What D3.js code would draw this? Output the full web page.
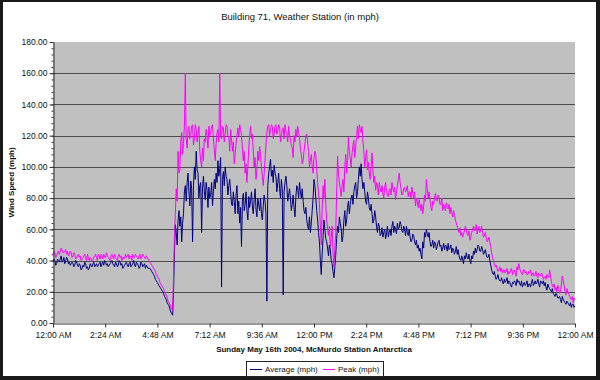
<!DOCTYPE html>
<html>
<head>
<meta charset="utf-8">
<script src="https://cdn.jsdelivr.net/npm/d3@7"></script>
<style>
  body { margin: 0; background: #fff; }
  svg { display: block; font-family: "Liberation Sans", Arial, sans-serif; }
</style>
</head>
<body>
<script>
// readings every 2.5 minutes, midnight to midnight
var stepMinutes = 2.5;

var avgMph = [
  39,41,40,37,38,41,40,39,41,43,39,40,42,38,40,42,41,38,39,37,
  38,39,38,36,37,40,39,37,36,38,37,34,35,37,36,39,38,35,36,34,
  35,38,37,36,38,39,36,37,38,36,37,38,39,36,38,39,37,40,39,37,
  38,36,37,38,39,40,38,37,36,39,38,36,37,40,39,37,38,35,36,37,
  38,39,37,36,38,39,36,37,38,40,37,36,39,38,37,35,36,39,38,36,
  37,38,35,37,36,35,
  35,35,34,33,32,31,30,28,27,26,25,24,23,22,21,20,19,17,16,15,13,12,11,9,7,6,5,20,
  45,63,58,50,66,72,62,68,52,64,70,84,88,78,90,96,84,75,91,86,
  52,88,100,92,110,98,96,80,88,90,58,86,94,84,79,90,85,74,87,80,
  82,90,75,84,92,86,96,90,104,94,99,106,23,92,97,88,100,94,92,82,
  88,92,84,76,75,84,78,70,82,88,70,78,64,74,49,78,83,72,76,84,
  72,66,81,74,78,84,75,70,79,86,73,68,80,76,72,80,70,66,75,82,
  78,70,14,88,96,100,105,94,98,90,101,96,94,84,90,96,86,80,92,86,
  18,84,90,94,88,78,82,86,80,72,76,82,74,68,81,88,86,80,90,84,
  80,86,78,72,70,74,66,62,60,68,58,64,72,80,92,88,
  80,72,66,58,52,40,31,44,55,66,60,54,52,48,43,50,47,40,38,33,
  29,36,44,54,62,58,68,64,60,52,56,66,72,62,66,74,78,70,76,80,
  82,76,84,88,90,80,84,92,100,94,102,92,86,90,84,78,76,84,80,74,
  72,76,70,64,66,72,68,62,58,64,62,56,57,61,55,58,60,54,57,62,
  55,58,60,56,62,65,58,62,60,57,64,60,61,65,63,59,58,62,60,56,
  62,58,56,60,55,52,53,57,56,52,50,53,48,50,46,48,44,41,52,48,
  58,55,60,57,55,58,52,49,50,53,48,52,51,47,49,52,53,49,50,46,
  48,51,47,50,49,46,51,47,48,50,45,48,47,44,46,49,44,47,43,41,
  40,43,41,38,43,41,45,42,41,44,40,38,43,41,46,44,48,45,47,50,
  49,46,46,49,47,44,45,47,44,42,42,44,40,37,34,32,31,33,30,28,
  29,31,28,27,27,29,26,25,28,26,27,29,25,27,26,24,23,26,25,27,
  26,24,28,26,27,25,24,27,23,25,26,24,25,27,23,25,25,23,26,28,
  24,25,27,25,26,28,25,23,27,26,25,27,24,26,23,21,25,23,22,21,
  20,22,19,18,17,19,18,16,16,17,15,13,17,15,14,13,12,14,13,12,
  11,13,10,12,12,10,11
];

var peakMph = [
  44,46,45,42,43,45,46,44,46,48,47,45,45,46,47,44,46,43,44,46,
  45,42,43,45,44,41,42,43,44,42,43,40,41,42,43,44,42,40,44,42,
  40,42,41,39,40,42,43,44,42,40,44,43,41,44,43,41,44,42,42,45,
  43,42,41,40,43,44,42,41,44,42,41,40,43,44,42,43,40,42,42,41,
  44,42,43,44,41,43,42,40,44,42,42,44,43,42,41,43,44,41,42,44,
  43,42,41,43,42,41,
  40,39,38,37,36,35,34,33,31,30,29,28,26,25,24,23,22,20,19,18,16,14,13,12,10,9,8,30,
  55,70,86,78,110,96,98,116,122,108,115,126,160,118,112,124,126,118,120,126,
  127,114,118,127,124,116,121,126,110,104,100,112,104,118,116,124,119,112,126,120,
  122,126,127,118,111,104,115,122,124,116,160,120,118,126,125,116,121,127,126,120,
  119,110,124,118,110,116,102,108,115,120,125,119,127,124,120,112,104,110,96,102,
  90,100,112,120,126,118,121,110,100,106,92,98,110,104,113,108,100,94,88,96,
  105,114,122,126,127,120,124,127,126,118,121,126,127,121,123,127,126,116,119,124,
  125,118,127,123,122,116,126,120,118,114,112,106,120,116,124,119,126,122,119,112,
  108,102,104,110,115,120,121,116,110,100,104,108,100,96,106,110,
  108,98,90,84,76,62,50,72,88,80,92,76,66,60,56,62,49,55,62,46,
  36,48,58,84,107,96,90,86,81,88,92,84,100,108,96,104,119,110,105,100,
  109,114,117,106,113,120,126,118,127,124,122,126,116,110,100,106,111,98,103,96,
  92,100,109,98,90,94,85,90,88,82,90,86,84,88,83,80,87,90,85,82,
  81,85,86,82,90,86,84,87,79,84,88,92,96,90,86,82,83,86,87,84,
  85,88,81,84,84,80,87,83,80,84,75,80,78,74,79,76,72,76,70,75,
  82,78,92,86,80,84,79,74,72,78,76,80,83,79,78,82,81,76,76,80,
  72,76,75,72,77,74,73,76,70,74,71,68,72,69,66,64,62,60,58,61,
  56,58,55,57,59,62,60,57,56,59,53,55,58,60,62,59,60,63,57,60,
  62,58,60,62,58,55,56,58,55,52,53,55,52,49,45,42,40,38,36,37,
  35,33,34,36,33,35,32,34,34,32,33,35,31,33,32,34,35,31,33,34,
  32,30,36,34,38,35,33,32,31,34,34,32,33,31,31,33,32,34,30,32,
  32,30,31,33,30,29,32,31,30,32,31,28,29,30,28,31,30,29,34,30,
  26,24,23,25,21,23,20,24,22,19,20,25,30,27,24,20,18,22,20,19,
  17,16,15,17,13,16,15
];

var xTickMinutes = [0,144,288,432,576,720,864,1008,1152,1296,1440];
var xTickLabels = ["12:00 AM","2:24 AM","4:48 AM","7:12 AM","9:36 AM","12:00 PM",
                   "2:24 PM","4:48 PM","7:12 PM","9:36 PM","12:00 AM"];
var yTicks = [0,20,40,60,80,100,120,140,160,180];
var yMinorTicks = d3.range(0, 181, 4);

var seriesNames = ["Average (mph)", "Peak (mph)"];
var seriesColors = ["#000080", "#ff00ff"];

var W = 600, H = 380;
var plotL = 53, plotR = 575, plotT = 42, plotB = 323;

var svg = d3.select("body").append("svg")
        .attr("width", W)
        .attr("height", H);

// dark frame round the whole chart
svg.append("rect").attr("width", W).attr("height", H).attr("fill", "#1a1a1a");
svg.append("rect")
        .attr("x", 3).attr("y", 2)
        .attr("width", 593).attr("height", 374)
        .attr("fill", "#fff");

var x = d3.scaleLinear().domain([0, 1440]).range([plotL, plotR]);
var y = d3.scaleLinear().domain([0, 180]).range([plotB, plotT]);

// grey plot area
svg.append("rect")
        .attr("x", plotL).attr("y", plotT)
        .attr("width", plotR - plotL).attr("height", plotB - plotT)
        .attr("fill", "#c0c0c0");

// horizontal gridlines
svg.selectAll("line.grid")
        .data(yTicks.filter(function(d){ return d > 0 && d < 180; }))
        .enter().append("line")
                .attr("class", "grid")
                .attr("x1", plotL).attr("x2", plotR)
                .attr("y1", function(d){ return Math.round(y(d)) + 0.5; })
                .attr("y2", function(d){ return Math.round(y(d)) + 0.5; })
                .attr("stroke", "#4d4d4d")
                .attr("stroke-width", 1);

// the two series, average first so peak sits on top
var allSeries = [
  { name: seriesNames[0], color: seriesColors[0], values: avgMph },
  { name: seriesNames[1], color: seriesColors[1], values: peakMph }
];
var line = d3.line()
        .x(function(d, i){ return x(i * stepMinutes); })
        .y(function(d){ return y(d); });

svg.selectAll("path.series")
        .data(allSeries)
        .enter().append("path")
                .attr("class", "series")
                .attr("d", function(d){ return line(d.values); })
                .attr("fill", "none")
                .attr("stroke", function(d){ return d.color; })
                .attr("stroke-width", 1)
                .attr("stroke-linejoin", "round");

// y axis, minor ticks first then the labelled one
svg.append("g")
        .attr("transform", "translate(" + (plotL + 0.5) + ",0)")
        .call(d3.axisLeft(y).tickValues(yMinorTicks).tickSize(2).tickFormat(""))
        .call(function(g){ g.select(".domain").remove(); })
        .selectAll("line").attr("stroke", "#333");

var yAxis = svg.append("g")
        .attr("transform", "translate(" + (plotL + 0.5) + ",0)")
        .call(d3.axisLeft(y).tickValues(yTicks).tickSize(4).tickSizeOuter(0)
                .tickFormat(function(d){ return d.toFixed(2); }));
yAxis.select(".domain").attr("stroke", "#333");
yAxis.selectAll("line").attr("stroke", "#333");
yAxis.selectAll("text")
        .attr("font-size", "8.5px")
        .attr("font-family", "Liberation Sans, Arial, sans-serif")
        .attr("fill", "#111")
        .attr("x", -6);

// x axis
var xAxis = svg.append("g")
        .attr("transform", "translate(0," + (plotB + 0.5) + ")")
        .call(d3.axisBottom(x).tickValues(xTickMinutes).tickSize(4).tickSizeOuter(0)
                .tickFormat(function(d, i){ return xTickLabels[i]; }));
xAxis.select(".domain").attr("stroke", "#333");
xAxis.selectAll("line").attr("stroke", "#333");
xAxis.selectAll("text")
        .attr("font-size", "8.5px")
        .attr("font-family", "Liberation Sans, Arial, sans-serif")
        .attr("fill", "#111")
        .attr("y", 8);

// titles
svg.append("text")
        .attr("x", 300).attr("y", 20)
        .attr("text-anchor", "middle")
        .attr("font-size", "9.5px")
        .attr("fill", "#111")
        .text("Building 71, Weather Station (in mph)");

svg.append("text")
        .attr("x", (plotL + plotR) / 2).attr("y", 352)
        .attr("text-anchor", "middle")
        .attr("font-size", "8px")
        .attr("font-weight", "bold")
        .attr("fill", "#111")
        .text("Sunday May 16th 2004, McMurdo Station Antarctica");

svg.append("text")
        .attr("transform", "translate(14," + ((plotT + plotB) / 2) + ") rotate(-90)")
        .attr("text-anchor", "middle")
        .attr("font-size", "8px")
        .attr("font-weight", "bold")
        .attr("fill", "#111")
        .text("Wind Speed (mph)");

// legend box at the bottom
var legend = svg.append("g");
legend.append("rect")
        .attr("x", 246.5).attr("y", 361.5)
        .attr("width", 137).attr("height", 15)
        .attr("fill", "#fff")
        .attr("stroke", "#222");

var legendX = [250, 323];
var items = legend.selectAll("g.item")
        .data(allSeries)
        .enter().append("g")
                .attr("class", "item")
                .attr("transform", function(d, i){ return "translate(" + legendX[i] + ",369)"; });
items.append("line")
        .attr("x1", 0).attr("x2", 12)
        .attr("y1", 0.5).attr("y2", 0.5)
        .attr("stroke", function(d){ return d.color; });
items.append("text")
        .attr("x", 15).attr("y", 3)
        .attr("font-size", "8px")
        .attr("fill", "#111")
        .text(function(d){ return d.name; });
</script>
</body>
</html>
